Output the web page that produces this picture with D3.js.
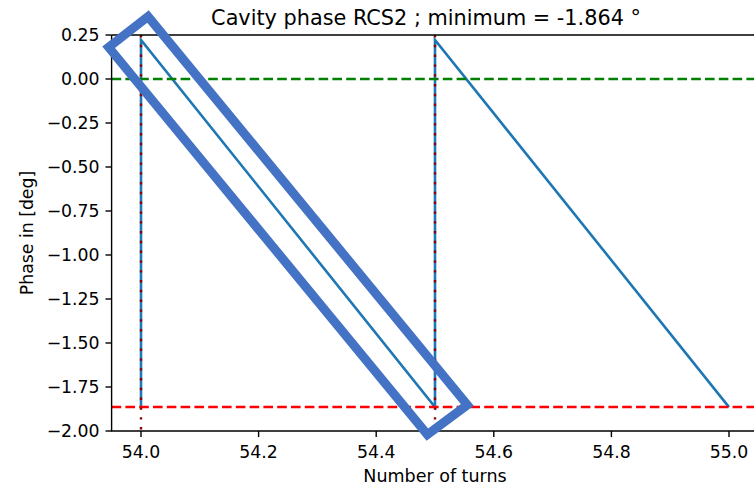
<!DOCTYPE html>
<html>
<head>
<meta charset="utf-8">
<script src="https://cdn.jsdelivr.net/npm/d3@7"></script>
<style>
body { margin: 0; background: #fff; }
text { font-family: "DejaVu Sans", sans-serif; fill: #000; }
</style>
</head>
<body>
<div id="chart"></div>
<script>
// sawtooth of the cavity phase
var turns = [54.0, 54.0, 54.5, 54.5, 55.0];
var phase = [-1.864, 0.222, -1.864, 0.222, -1.864];
var minPhase = -1.864;
var refPhase = 0;
var kicks = [54.0, 54.5]; // dotted markers

var xTicks = [54.0, 54.2, 54.4, 54.6, 54.8, 55.0];
var yTicks = [0.25, 0, -0.25, -0.5, -0.75, -1.0, -1.25, -1.5, -1.75, -2.0];

// highlight box drawn over the plot (data units)
var boxX = [54.012, 53.945, 54.487, 54.555];
var boxY = [0.355, 0.18, -2.02, -1.852];

var width = 754, height = 489;
var svg = d3.select("#chart").append("svg")
    .attr("width", width).attr("height", height);

var x = d3.scaleLinear().domain([53.95, 55.05]).range([111.6, 758.4]);
var y = d3.scaleLinear().domain([-2, 0.25]).range([431, 35]);

svg.append("defs").append("clipPath").attr("id", "clip")
    .append("rect").attr("x", x.range()[0]).attr("y", y.range()[1])
    .attr("width", x.range()[1] - x.range()[0]).attr("height", y.range()[0] - y.range()[1]);

var plot = svg.append("g").attr("clip-path", "url(#clip)");

var line = d3.line().x(d => x(d[0])).y(d => y(d[1]));
plot.append("path")
    .datum(d3.zip(turns, phase))
    .attr("d", line)
    .attr("fill", "none")
    .attr("stroke", "#1f77b4")
    .attr("stroke-width", 2.6);

plot.append("line")
    .attr("x1", x.range()[0]).attr("x2", x.range()[1])
    .attr("y1", y(refPhase)).attr("y2", y(refPhase))
    .attr("stroke", "green").attr("stroke-width", 2.6)
    .attr("stroke-dasharray", "9.6,4.2");

plot.append("line")
    .attr("x1", x.range()[0]).attr("x2", x.range()[1])
    .attr("y1", y(minPhase)).attr("y2", y(minPhase))
    .attr("stroke", "red").attr("stroke-width", 2.6)
    .attr("stroke-dasharray", "9.6,4.2");

plot.selectAll(".kick")
    .data(kicks)
    .enter()
    .append("line")
    .attr("class", "kick")
    .attr("x1", d => x(d)).attr("x2", d => x(d))
    .attr("y1", y.range()[1]).attr("y2", y.range()[0])
    .attr("stroke", "darkred").attr("stroke-width", 2.4)
    .attr("stroke-dasharray", "2.4,7.4");

// spines
var x0 = x.range()[0], x1 = x.range()[1], yb = y.range()[0], yt = y.range()[1];
svg.append("path")
    .attr("d", "M" + x0 + "," + yt + "H" + x1 + "M" + x0 + "," + yt + "V" + yb + "H" + x1)
    .attr("fill", "none").attr("stroke", "#000").attr("stroke-width", 1.4);

var xAxis = svg.append("g");
xAxis.selectAll("line").data(xTicks).enter().append("line")
    .attr("x1", d => x(d)).attr("x2", d => x(d))
    .attr("y1", yb).attr("y2", yb + 6.1)
    .attr("stroke", "#000").attr("stroke-width", 1.4);
xAxis.selectAll("text").data(xTicks).enter().append("text")
    .attr("x", d => x(d)).attr("y", yb + 27)
    .attr("text-anchor", "middle")
    .style("font-size", "17.3px")
    .text(d => d.toFixed(1));

var yAxis = svg.append("g");
yAxis.selectAll("line").data(yTicks).enter().append("line")
    .attr("x1", x0 - 6.1).attr("x2", x0)
    .attr("y1", d => y(d)).attr("y2", d => y(d))
    .attr("stroke", "#000").attr("stroke-width", 1.4);
yAxis.selectAll("text").data(yTicks).enter().append("text")
    .attr("x", x0 - 12).attr("y", d => y(d) + 6)
    .attr("text-anchor", "end")
    .style("font-size", "17.3px")
    .text(d => d.toFixed(2).replace("-", "\u2212"));

svg.append("text")
    .attr("x", 435).attr("y", 482)
    .attr("text-anchor", "middle")
    .style("font-size", "17.5px")
    .text("Number of turns");

svg.append("text")
    .attr("transform", "translate(33," + ((yt + yb) / 2) + ") rotate(-90)")
    .attr("text-anchor", "middle")
    .style("font-size", "17.3px")
    .text("Phase in [deg]");

svg.append("text")
    .attr("x", 426).attr("y", 25)
    .attr("text-anchor", "middle")
    .style("font-size", "20.8px")
    .text("Cavity phase RCS2 ; minimum = -1.864 °");

// highlight box
svg.append("polygon")
    .attr("points", d3.zip(boxX, boxY).map(d => x(d[0]) + "," + y(d[1])).join(" "))
    .attr("fill", "none")
    .attr("stroke", "#4472c4")
    .attr("stroke-width", 9)
    .attr("stroke-linejoin", "miter");
</script>
</body>
</html>
